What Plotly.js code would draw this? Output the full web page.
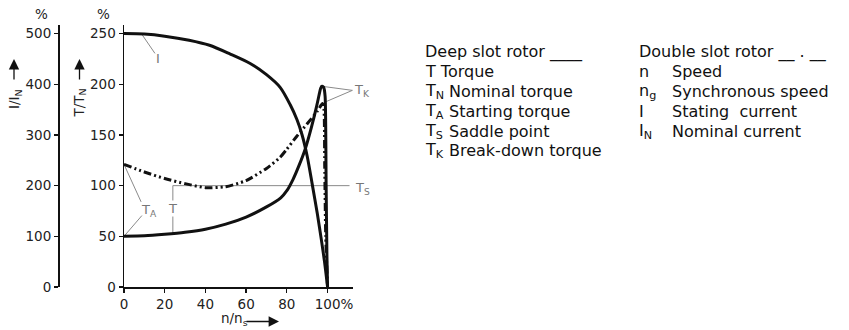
<!DOCTYPE html>
<html>
<head>
<meta charset="utf-8">
<script src="https://cdn.plot.ly/plotly-3.0.1.min.js"></script>
<style>html,body{margin:0;padding:0;background:#fff;}#chart{width:849px;height:330px;}</style>
</head>
<body>
<div id="chart"></div>
<script>
// ---- data ----
const speedDeep = [0,10,20,30,40,50,60,70,77,80,83,86,89,92,94.7,96,96.6,97.3,98.1,98.8,99.3,99.7,100];
const torqueDeep = [50,50.5,52,54,57,62,69,79,88,95,106,120,136,157,179,191,196,198,197,188,100,30,0];

const speedDouble = [0,10,20,30,40,50,60,70,76.7,80,85,90,95,97.5,98.2,98.6,99.1,100];
const torqueDouble = [121,113.5,107,102,98,99,105,117,128,136,149,161,173.5,181,176,120,50,0];

const speedCurrent = [0,10,20,32,42,52,62,70,76.7,81.6,85,87.5,90,92.5,95,97,98.5,100];
const current = [500,499,495,487,477,460,441,419,394,360,330,300,258,202,144,92,50,0];

const xTickVals = [0,20,40,60,80,100];
const xTickText = ['0','20','40','60','80','\u00a0\u00a0\u00a0100%'];
const tTickVals = [0,50,100,150,200,250];
const iTickVals = [0,100,200,300,400,500];

const legendLeft = [
  ['Deep slot rotor ____', ''],
  ['T Torque', ''],
  ['T<sub>N</sub>', 'Nominal torque'],
  ['T<sub>A</sub>', 'Starting torque'],
  ['T<sub>S</sub>', 'Saddle point'],
  ['T<sub>K</sub>', 'Break-down torque']
];
const legendRight = [
  ['Double slot rotor __ . __', ''],
  ['n', 'Speed'],
  ['n<sub>g</sub>', 'Synchronous speed'],
  ['I', 'Stating  current'],
  ['I<sub>N</sub>', 'Nominal current']
];

// ---- layout helpers ----
const W = 849, H = 330;
const px = v => v / W;
const py = v => 1 - v / H;
const FONT = 'DejaVu Sans, Liberation Sans, Arial, sans-serif';
const GRAY = '#8a8a8a';

const traces = [
  {x: speedDeep, y: torqueDeep, type: 'scatter', mode: 'lines', xaxis: 'x', yaxis: 'y',
   line: {color: '#111', width: 3, shape: 'spline', smoothing: 0.6}, hoverinfo: 'skip'},
  {x: speedDouble, y: torqueDouble, type: 'scatter', mode: 'lines', xaxis: 'x', yaxis: 'y',
   line: {color: '#111', width: 3, dash: '8px,3px,2px,3px,2px,3px', shape: 'spline', smoothing: 0.6}, hoverinfo: 'skip'},
  {x: speedCurrent, y: current, type: 'scatter', mode: 'lines', xaxis: 'x', yaxis: 'y2',
   line: {color: '#111', width: 3, shape: 'spline', smoothing: 0.8}, hoverinfo: 'skip'}
];

const annotations = [];
function txt(x, y, text, opts) {
  annotations.push(Object.assign({xref: 'paper', yref: 'paper', x: px(x), y: py(y), text: text,
    showarrow: false, xanchor: 'left', yanchor: 'middle',
    font: {family: FONT, size: 16, color: '#111'}}, opts || {}));
}
// legend text
const rowY = [51.7, 71.7, 91, 111, 131, 151];
legendLeft.forEach((r, i) => {
  txt(423, rowY[i], r[0]);
  if (r[1]) txt(447, rowY[i], r[1]);
});
legendRight.forEach((r, i) => {
  txt(637, rowY[i], r[0]);
  if (r[1]) txt(670, rowY[i], r[1]);
});
// axis units and titles
const tf = {family: FONT, size: 13.5, color: '#222'};
txt(41.5, 14, '%', {xanchor: 'center', font: tf});
txt(103.5, 14, '%', {xanchor: 'center', font: tf});
txt(15, 99, 'I/I<sub>N</sub>', {xanchor: 'center', textangle: -90, font: tf});
txt(79.5, 103, 'T/T<sub>N</sub>', {xanchor: 'center', textangle: -90, font: tf});
txt(234, 319, 'n/n<sub>s</sub>', {xanchor: 'center', font: tf});
function arrow(x, y, ax, ay) {
  annotations.push({xref: 'paper', yref: 'paper', x: px(x), y: py(y), ax: ax, ay: ay,
    text: '', showarrow: true, arrowhead: 2, arrowsize: 1.6, arrowwidth: 1.3, arrowcolor: '#111'});
}
arrow(14, 59, 0, 22);
arrow(79.5, 59, 0, 22);
arrow(279, 321.5, -34, 0);

// curve labels (gray)
const gf = {family: FONT, size: 13, color: '#777'};
annotations.push({xref: 'x', yref: 'y', x: 16.8, y: 225.5, text: 'I', showarrow: false, font: gf});
annotations.push({xref: 'x', yref: 'y', x: 12.4, y: 75.5, text: 'T<sub>A</sub>', showarrow: false, font: gf});
annotations.push({xref: 'x', yref: 'y', x: 24, y: 77, text: 'T', showarrow: false, font: gf,
  bgcolor: '#fff', borderpad: 0});
txt(353, 188, 'T<sub>S</sub>', {font: gf});
txt(352, 90, 'T<sub>K</sub>', {font: gf});

function seg(x0, y0, x1, y1) {
  return {type: 'line', xref: 'x', yref: 'y', x0: x0, y0: y0, x1: x1, y1: y1,
    line: {color: GRAY, width: 1}, layer: 'below'};
}
const shapes = [
  seg(24, 100, 110.8, 100),      // saddle line
  seg(24, 53, 24, 100),          // T marker
  seg(8.7, 249.5, 15.2, 230.5),  // I leader
  seg(0, 121, 8.4, 84),          // T_A leaders
  seg(0, 50, 8.8, 70.5),
  seg(96.3, 198.3, 112.2, 194),  // T_K leaders
  seg(98.8, 182.5, 112.2, 194)
];

const axisFont = {family: FONT, size: 13.5, color: '#222'};
const layout = {
  width: W, height: H,
  margin: {l: 0, r: 0, t: 0, b: 0, pad: 0},
  paper_bgcolor: '#fff', plot_bgcolor: '#fff',
  showlegend: false,
  xaxis: {domain: [px(124), px(353)], range: [0, 112.5], showgrid: false, zeroline: false,
    showline: true, linecolor: '#111', linewidth: 1.5, ticks: 'outside', ticklen: 4, tickwidth: 1.3,
    tickcolor: '#111', tickvals: xTickVals, ticktext: xTickText, tickfont: axisFont, fixedrange: true},
  yaxis: {domain: [43 / H, 305 / H], range: [0, 258.5], showgrid: false, zeroline: false,
    showline: true, linecolor: '#111', linewidth: 1.5, ticks: 'outside', ticklen: 4, tickwidth: 1.3,
    tickcolor: '#111', tickvals: tTickVals, tickfont: axisFont, fixedrange: true},
  yaxis2: {overlaying: 'y', anchor: 'free', position: px(58), side: 'left', range: [0, 517],
    showgrid: false, zeroline: false, showline: true, linecolor: '#111', linewidth: 1.5,
    ticks: 'outside', ticklen: 4, tickwidth: 1.3, tickcolor: '#111', tickvals: iTickVals,
    tickfont: axisFont, fixedrange: true},
  annotations: annotations,
  shapes: shapes
};

Plotly.newPlot('chart', traces, layout, {displayModeBar: false, staticPlot: true});
</script>
</body>
</html>
